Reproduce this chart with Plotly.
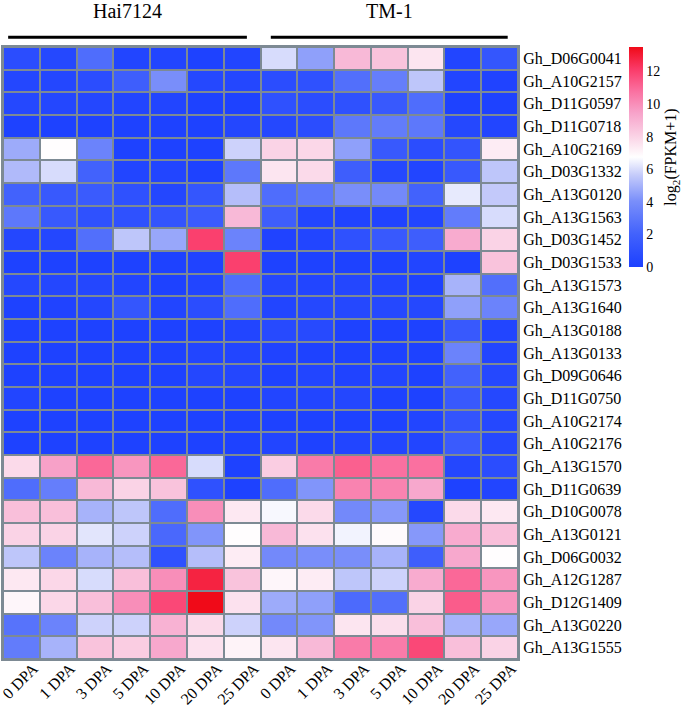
import plotly.graph_objects as go

genes = ["Gh_D06G0041","Gh_A10G2157","Gh_D11G0597","Gh_D11G0718","Gh_A10G2169","Gh_D03G1332",
         "Gh_A13G0120","Gh_A13G1563","Gh_D03G1452","Gh_D03G1533","Gh_A13G1573","Gh_A13G1640",
         "Gh_A13G0188","Gh_A13G0133","Gh_D09G0646","Gh_D11G0750","Gh_A10G2174","Gh_A10G2176",
         "Gh_A13G1570","Gh_D11G0639","Gh_D10G0078","Gh_A13G0121","Gh_D06G0032","Gh_A12G1287",
         "Gh_D12G1409","Gh_A13G0220","Gh_A13G1555"]
stages = ["0 DPA","1 DPA","3 DPA","5 DPA","10 DPA","20 DPA","25 DPA"]
groups = ["Hai7124", "TM-1"]

hai7124 = [
    [0.8,0.5,2.5,0.3,0.3,0.1,0.3],
    [0.4,0.4,0.8,1.8,4.0,0.5,0.4],
    [0.5,0.4,0.4,0.3,0.3,0.1,0.1],
    [0.1,0.1,0.1,0.1,0.1,0.1,0.4],
    [4.8,6.8,3.5,0.1,0.1,0.1,5.8],
    [5.2,6.0,2.0,0.3,0.3,0.1,3.0],
    [2.0,1.5,1.6,1.0,0.4,1.3,5.3],
    [3.0,1.5,1.0,1.0,1.2,1.6,8.8],
    [0.4,0.4,2.6,5.5,4.7,12.0,3.5],
    [0.1,0.1,0.1,0.1,0.1,0.2,12.0],
    [0.5,0.4,0.4,0.3,0.1,0.3,2.5],
    [0.1,0.2,0.4,1.3,0.3,0.8,2.5],
    [0.1,0.1,0.1,0.1,0.1,0.1,0.3],
    [0.1,0.1,0.1,0.1,0.1,0.3,0.3],
    [0.1,0.1,0.1,0.1,0.1,0.4,0.4],
    [0.3,0.1,0.1,0.1,0.1,0.1,0.1],
    [0.1,0.1,0.1,0.1,0.1,0.1,0.1],
    [0.1,0.1,0.1,0.1,0.1,0.1,0.1],
    [7.8,9.5,11.0,9.8,11.0,6.0,0.1],
    [2.5,3.3,8.8,8.0,8.5,1.0,0.1],
    [8.6,8.6,5.0,5.5,2.5,10.0,7.4],
    [8.0,8.0,6.2,5.8,2.3,4.2,6.8],
    [5.5,3.5,5.0,5.3,1.0,5.3,7.3],
    [7.4,7.9,6.0,8.6,10.0,12.8,8.5],
    [7.0,7.9,8.6,10.0,11.8,13.5,7.6],
    [2.8,3.5,5.8,5.8,9.0,7.8,5.8],
    [3.2,5.0,8.5,8.2,9.3,7.6,7.1],
]
tm1 = [
    [6.0,4.5,8.8,8.5,7.5,0.3,1.3],
    [0.8,1.0,2.6,3.3,5.5,0.3,0.2],
    [1.0,0.8,1.0,1.5,2.5,0.1,0.1],
    [0.5,0.8,3.0,3.2,3.0,0.5,0.3],
    [8.0,7.9,4.5,1.5,0.8,1.2,7.3],
    [7.5,7.8,1.8,0.5,0.3,1.5,5.5],
    [2.5,3.0,4.0,3.8,2.0,6.3,5.6],
    [1.8,0.3,0.2,0.2,0.3,3.2,6.0],
    [0.2,0.3,1.0,1.5,1.8,9.2,8.0],
    [0.1,0.1,0.1,0.1,0.3,0.1,8.5],
    [0.4,0.3,0.4,0.3,0.1,5.0,2.6],
    [0.3,0.5,0.5,0.5,0.5,4.5,3.5],
    [0.6,0.6,0.1,0.1,0.1,1.5,0.3],
    [0.2,0.1,0.1,0.1,0.1,3.5,0.3],
    [0.1,0.3,0.2,0.3,0.1,2.0,0.5],
    [0.3,0.3,0.4,0.1,0.1,1.5,0.5],
    [0.1,0.1,0.1,0.1,0.3,1.2,0.5],
    [0.3,0.1,0.3,0.3,0.3,1.6,0.5],
    [8.2,10.5,11.2,10.8,10.8,0.4,0.8],
    [2.5,4.2,10.3,10.3,9.3,0.1,0.3],
    [6.6,7.8,3.8,4.3,0.5,7.8,7.4],
    [8.8,7.6,6.5,6.9,4.3,9.2,8.6],
    [3.8,4.0,4.0,5.0,1.8,9.3,6.8],
    [7.0,7.3,5.5,5.8,9.2,11.0,9.8],
    [4.8,4.5,2.4,2.6,8.0,11.3,9.8],
    [3.8,4.2,7.5,7.7,8.6,5.0,4.7],
    [7.5,8.8,10.5,10.5,11.8,8.6,8.0],
]

z = [h + t for h, t in zip(hai7124, tm1)]
xcats = list(range(len(stages) * 2))
xlabels = stages + stages

font_family = "Liberation Serif, Times New Roman, serif"
grid_col = "rgb(125,138,148)"

colorscale = [
    [0.0, "rgb(28,64,255)"],
    [0.15, "rgb(66,98,252)"],
    [0.3, "rgb(122,143,250)"],
    [0.42, "rgb(198,204,250)"],
    [0.5, "rgb(255,255,255)"],
    [0.6, "rgb(250,208,228)"],
    [0.7, "rgb(247,163,202)"],
    [0.8, "rgb(250,112,160)"],
    [0.9, "rgb(250,58,104)"],
    [1.0, "rgb(240,10,24)"],
]

fig = go.Figure(go.Heatmap(
    z=z, x=xcats, y=genes,
    zmin=0, zmax=13.5,
    colorscale=colorscale,
    xgap=2, ygap=2,
    colorbar=dict(
        x=1.2155, xanchor="left", xpad=0, y=1, yanchor="top", ypad=0,
        len=0.359, lenmode="fraction", thickness=14, outlinewidth=0,
        tickvals=[0, 2, 4, 6, 8, 10, 12], ticks="",
        tickfont=dict(family=font_family, size=14, color="black"),
        title=dict(text="log<sub>2</sub>(FPKM+1)", side="right",
                   font=dict(family=font_family, size=16, color="black")),
    ),
    hoverinfo="skip",
))

fig.update_layout(
    width=685, height=713,
    margin=dict(l=3, r=167, t=47, b=54, autoexpand=False),
    paper_bgcolor="white",
    plot_bgcolor=grid_col,
    font=dict(family=font_family, size=16, color="black"),
    xaxis=dict(tickvals=xcats, ticktext=xlabels, tickangle=-45, showgrid=False,
               zeroline=False, ticks="", range=[-0.5, 13.5], automargin=False,
               ticklabelshift=12, ticklabelstandoff=-8, ticklabeloverflow="allow",
               showline=True, linecolor=grid_col, linewidth=2, mirror=True,
               tickfont=dict(family=font_family, size=16)),
    yaxis=dict(autorange="reversed", side="right", showgrid=False, zeroline=False,
               ticks="", automargin=False,
               showline=True, linecolor=grid_col, linewidth=2, mirror=True,
               tickfont=dict(family=font_family, size=16)),
)

group_spans = [(-0.36, 6.13), (6.78, 13.22)]
for name, (a, b) in zip(groups, group_spans):
    fig.add_shape(type="line", xref="x", yref="paper", x0=a, x1=b, y0=1.016, y1=1.016,
                  line=dict(color="black", width=3))
    fig.add_annotation(text=name, xref="x", yref="paper", x=(a + b) / 2, y=1.059,
                       yanchor="middle", showarrow=False,
                       font=dict(family=font_family, size=20, color="black"))

fig.write_html("out.html", post_script="document.body.style.margin='0';",
               config={"displayModeBar": False})
